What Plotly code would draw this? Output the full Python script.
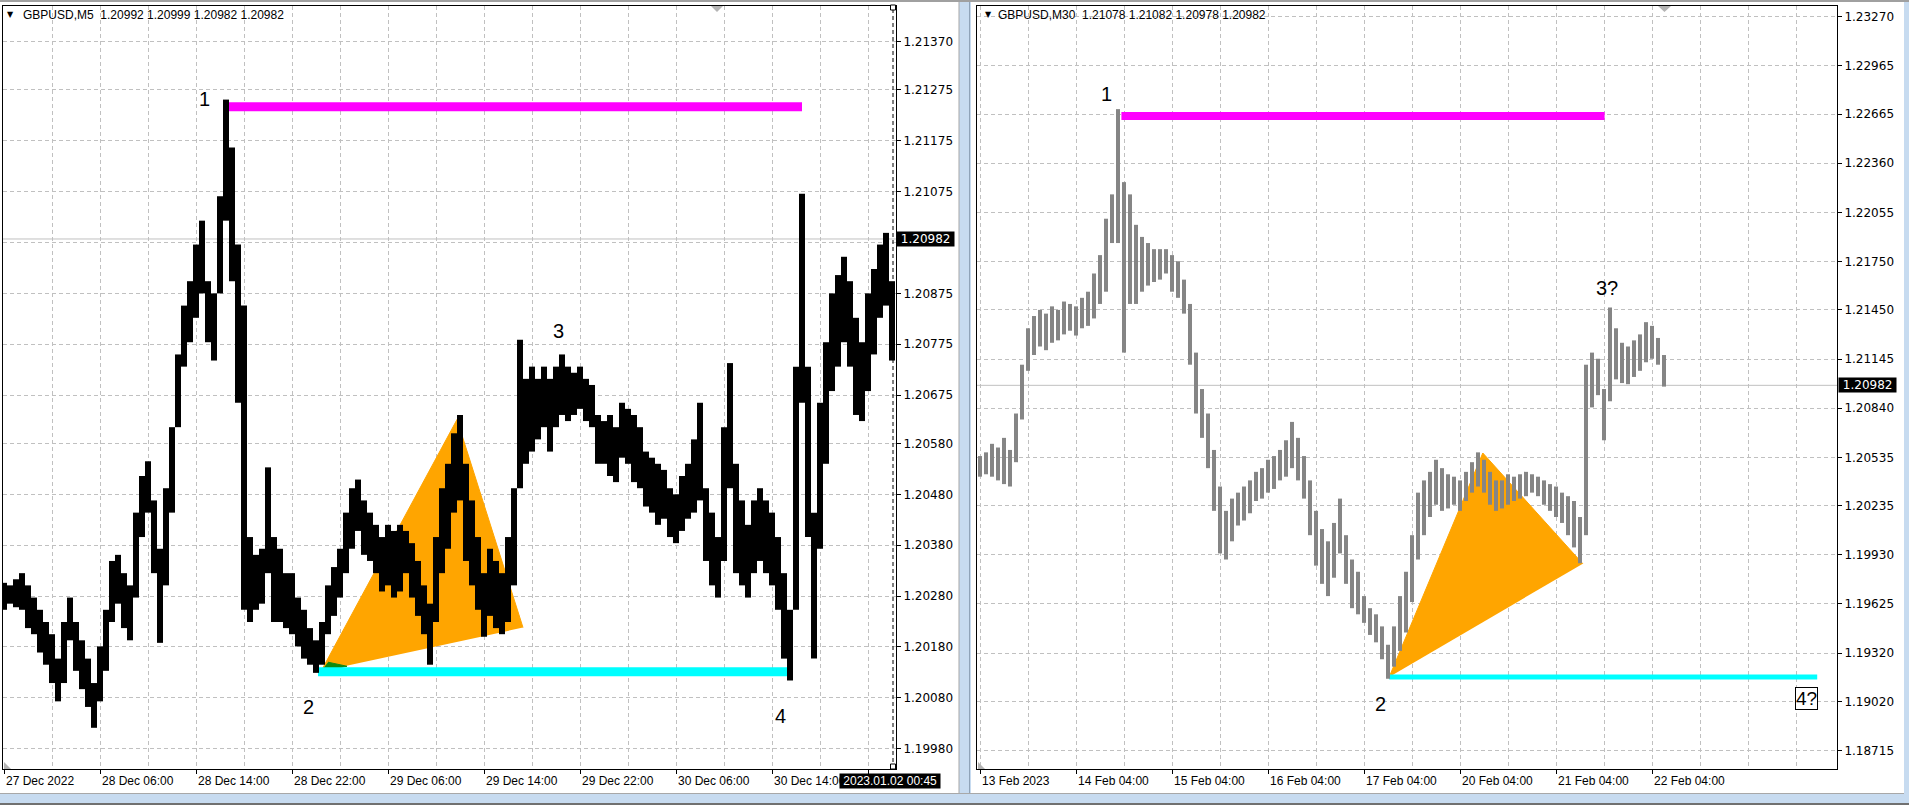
import plotly.graph_objects as go

W, H = 1909, 805

# ---------------- LEFT CHART : GBPUSD M5 (one drawn bar = 6 M5 bars) ----------------
left_title = "GBPUSD,M5  1.20992 1.20999 1.20982 1.20982"
left_bar_step = 6
left_high = [1.20306, 1.20301, 1.20313, 1.20325, 1.20301, 1.20277, 1.20253, 1.20229, 1.20205, 1.20157,
             1.20229, 1.20277, 1.20229, 1.20193, 1.20157, 1.20109, 1.20181, 1.20253, 1.20349, 1.20361,
             1.20325, 1.20301, 1.20444, 1.20516, 1.20545, 1.20468, 1.20373, 1.20492, 1.20612, 1.20755,
             1.20851, 1.20899, 1.20971, 1.21018, 1.20899, 1.20875, 1.21066, 1.21256, 1.21162, 1.20971,
             1.20851, 1.20396, 1.20361, 1.20373, 1.20533, 1.20396, 1.20373, 1.20325, 1.20325, 1.20277,
             1.20253, 1.20217, 1.20193, 1.20229, 1.20301, 1.20337, 1.20373, 1.20444, 1.20492, 1.20509,
             1.20468, 1.20444, 1.20420, 1.20396, 1.20420, 1.20408, 1.20420, 1.20408, 1.20384, 1.20349,
             1.20301, 1.20265, 1.20396, 1.20492, 1.20540, 1.20600, 1.20636, 1.20540, 1.20468, 1.20396,
             1.20325, 1.20373, 1.20349, 1.20325, 1.20396, 1.20492, 1.20784, 1.20707, 1.20731, 1.20707,
             1.20731, 1.20707, 1.20731, 1.20755, 1.20731, 1.20719, 1.20731, 1.20707, 1.20695, 1.20636,
             1.20624, 1.20636, 1.20612, 1.20660, 1.20648, 1.20636, 1.20612, 1.20564, 1.20552, 1.20540,
             1.20528, 1.20492, 1.20480, 1.20516, 1.20540, 1.20588, 1.20660, 1.20492, 1.20444, 1.20396,
             1.20612, 1.20738, 1.20540, 1.20468, 1.20420, 1.20468, 1.20492, 1.20468, 1.20444, 1.20396,
             1.20325, 1.20253, 1.20731, 1.21071, 1.20731, 1.20444, 1.20660, 1.20779, 1.20875, 1.20911,
             1.20947, 1.20899, 1.20827, 1.20779, 1.20875, 1.20923, 1.20971, 1.20994, 1.20899]
left_low = [1.20253, 1.20265, 1.20258, 1.20253, 1.20217, 1.20205, 1.20169, 1.20145, 1.20109, 1.20073,
            1.20109, 1.20193, 1.20133, 1.20097, 1.20062, 1.20021, 1.20073, 1.20133, 1.20229, 1.20265,
            1.20217, 1.20193, 1.20277, 1.20396, 1.20444, 1.20325, 1.20188, 1.20301, 1.20444, 1.20612,
            1.20731, 1.20779, 1.20827, 1.20875, 1.20779, 1.20743, 1.20875, 1.21018, 1.20899, 1.20660,
            1.20253, 1.20229, 1.20253, 1.20265, 1.20325, 1.20229, 1.20229, 1.20217, 1.20205, 1.20181,
            1.20157, 1.20145, 1.20129, 1.20145, 1.20205, 1.20241, 1.20277, 1.20325, 1.20373, 1.20408,
            1.20361, 1.20349, 1.20325, 1.20289, 1.20301, 1.20277, 1.20289, 1.20325, 1.20277, 1.20241,
            1.20205, 1.20145, 1.20229, 1.20325, 1.20373, 1.20444, 1.20468, 1.20349, 1.20301, 1.20253,
            1.20200, 1.20241, 1.20217, 1.20205, 1.20229, 1.20301, 1.20492, 1.20540, 1.20564, 1.20588,
            1.20612, 1.20564, 1.20612, 1.20636, 1.20624, 1.20636, 1.20648, 1.20624, 1.20612, 1.20540,
            1.20540, 1.20516, 1.20504, 1.20552, 1.20540, 1.20504, 1.20492, 1.20456, 1.20444, 1.20420,
            1.20432, 1.20396, 1.20384, 1.20408, 1.20432, 1.20444, 1.20468, 1.20349, 1.20301, 1.20277,
            1.20349, 1.20492, 1.20325, 1.20301, 1.20277, 1.20325, 1.20349, 1.20325, 1.20301, 1.20253,
            1.20157, 1.20114, 1.20253, 1.20660, 1.20396, 1.20157, 1.20373, 1.20540, 1.20683, 1.20731,
            1.20779, 1.20731, 1.20636, 1.20624, 1.20683, 1.20755, 1.20827, 1.20851, 1.20743]
left_xtick_pos = [0, 96, 192, 288, 384, 480, 576, 672, 768, 864]
left_xtick_text = ["27 Dec 2022", "28 Dec 06:00", "28 Dec 14:00", "28 Dec 22:00", "29 Dec 06:00",
                   "29 Dec 14:00", "29 Dec 22:00", "30 Dec 06:00", "30 Dec 14:00", ""]
left_ytick_vals = [1.21370, 1.21275, 1.21175, 1.21075, 1.20975, 1.20875, 1.20775, 1.20675,
                   1.20580, 1.20480, 1.20380, 1.20280, 1.20180, 1.20080, 1.19980]
# the 1.20975 label sits under the black bid-price box in the reference, so it is not shown
left_ytick_text = ["1.21370", "1.21275", "1.21175", "1.21075", "", "1.20875", "1.20775", "1.20675",
                   "1.20580", "1.20480", "1.20380", "1.20280", "1.20180", "1.20080", "1.19980"]
left_bid = 1.20982
left_time_label = "2023.01.02 00:45"
left_level_hi = 1.21242
left_level_hi_x = [223, 798]
left_level_lo = 1.20131
left_level_lo_x = [314, 787]
left_tri_x = [317, 453, 519]
left_tri_y = [1.20132, 1.20627, 1.20218]
left_wedge_x = [317, 343, 324]
left_wedge_y = [1.20132, 1.20142, 1.20150]
left_point_text = ["1", "2", "3", "4"]
left_point_x = [200, 304, 554, 776]
left_point_y = [1.21257, 1.20062, 1.20801, 1.20044]

# ---------------- RIGHT CHART : GBPUSD M30 (one drawn bar = 3 M30 bars) ----------------
right_title = "GBPUSD,M30  1.21078 1.21082 1.20978 1.20982"
right_bar_step = 3
right_high = [1.20543, 1.20566, 1.20619, 1.20596, 1.20656, 1.20581, 1.20807, 1.21110, 1.21336, 1.21412,
              1.21450, 1.21427, 1.21472, 1.21450, 1.21502, 1.21487, 1.21472, 1.21525, 1.21563, 1.21676,
              1.21790, 1.22016, 1.22167, 1.22696, 1.22243, 1.22167, 1.21978, 1.21903, 1.21865, 1.21827,
              1.21827, 1.21827, 1.21790, 1.21752, 1.21638, 1.21487, 1.21185, 1.20959, 1.20807, 1.20581,
              1.20354, 1.20203, 1.20279, 1.20316, 1.20354, 1.20392, 1.20445, 1.20468, 1.20520, 1.20543,
              1.20581, 1.20641, 1.20755, 1.20656, 1.20543, 1.20392, 1.20203, 1.20090, 1.20014, 1.20128,
              1.20279, 1.20052, 1.19901, 1.19825, 1.19674, 1.19599, 1.19561, 1.19486, 1.19372, 1.19486,
              1.19674, 1.19825, 1.20052, 1.20316, 1.20392, 1.20445, 1.20520, 1.20468, 1.20430, 1.20415,
              1.20392, 1.20445, 1.20505, 1.20566, 1.20520, 1.20445, 1.20392, 1.20392, 1.20430, 1.20415,
              1.20430, 1.20445, 1.20430, 1.20415, 1.20392, 1.20369, 1.20354, 1.20316, 1.20294, 1.20264,
              1.20165, 1.21110, 1.21185, 1.21147, 1.20959, 1.21465, 1.21336, 1.21246, 1.21223, 1.21261,
              1.21298, 1.21374, 1.21351, 1.21276, 1.21170]
right_low = [1.20415, 1.20430, 1.20415, 1.20392, 1.20369, 1.20354, 1.20505, 1.20770, 1.21072, 1.21170,
             1.21223, 1.21200, 1.21246, 1.21261, 1.21298, 1.21321, 1.21291, 1.21336, 1.21351, 1.21397,
             1.21487, 1.21563, 1.21865, 1.21865, 1.21185, 1.21487, 1.21487, 1.21563, 1.21601, 1.21623,
             1.21638, 1.21676, 1.21563, 1.21525, 1.21427, 1.21110, 1.20807, 1.20656, 1.20468, 1.20203,
             1.19939, 1.19901, 1.20014, 1.20112, 1.20143, 1.20188, 1.20264, 1.20279, 1.20316, 1.20339,
             1.20392, 1.20415, 1.20468, 1.20392, 1.20279, 1.20052, 1.19863, 1.19750, 1.19674, 1.19788,
             1.19939, 1.19750, 1.19599, 1.19561, 1.19508, 1.19433, 1.19387, 1.19282, 1.19161, 1.19236,
             1.19334, 1.19448, 1.19637, 1.19901, 1.20052, 1.20165, 1.20241, 1.20203, 1.20218, 1.20241,
             1.20203, 1.20264, 1.20316, 1.20354, 1.20316, 1.20241, 1.20203, 1.20218, 1.20241, 1.20264,
             1.20279, 1.20294, 1.20316, 1.20294, 1.20241, 1.20203, 1.20165, 1.20128, 1.20052, 1.19976,
             1.19878, 1.20052, 1.20845, 1.20921, 1.20641, 1.20883, 1.21019, 1.20996, 1.20989, 1.21034,
             1.21072, 1.21125, 1.21147, 1.21110, 1.20974]
right_xtick_pos = [0, 48, 96, 144, 192, 240, 288, 336]
right_xtick_text = ["13 Feb 2023", "14 Feb 04:00", "15 Feb 04:00", "16 Feb 04:00", "17 Feb 04:00",
                    "20 Feb 04:00", "21 Feb 04:00", "22 Feb 04:00"]
right_ytick_text = ["1.23270", "1.22965", "1.22665", "1.22360", "1.22055", "1.21750", "1.21450", "1.21145",
                    "1.20840", "1.20535", "1.20235", "1.19930", "1.19625", "1.19320", "1.19020", "1.18715"]
right_bid = 1.20982
right_level_hi = 1.22654
right_level_hi_x = [70.7, 312.3]
right_level_lo = 1.19172
right_level_lo_x = [204.6, 418.6]
right_tri_x = [204.6, 251.4, 301.4]
right_tri_y = [1.19172, 1.20562, 1.19875]
right_point_text = ["1", "2", "3?"]
right_point_x = [63.4, 200.3, 313.5]
right_point_y = [1.22792, 1.19007, 1.21583]
right_box_text = "4?"
right_box_x = 413.25
right_box_y = 1.19038

# ---------------- helpers (layout only) ----------------
def px_x(v):
    return v / W

def px_y(v):
    return 1 - v / H

GRID = "#c0c0c0"
DASH = "4px,3px"
TXT_FONT = "Liberation Sans"
AX_FONT = "DejaVu Sans"

def bar_segments(step, highs, lows):
    xs, ys = [], []
    for k, (h, l) in enumerate(zip(highs, lows)):
        x = k * step
        xs += [x, x, None]
        ys += [h, l, None]
    return xs, ys

fig = go.Figure()

def add_panel(xa, ya, bid, xrng, tri_x, tri_y, lvl_hi, lvl_hi_x, lvl_lo, lvl_lo_x,
              lvl_hi_w, lvl_lo_w, bars, bar_color, bar_w, wedge=None):
    fig.add_trace(go.Scatter(x=list(xrng), y=[bid, bid], mode="lines",
                             line=dict(color="#c0c0c0", width=1), xaxis=xa, yaxis=ya, hoverinfo="skip"))
    fig.add_trace(go.Scatter(x=tri_x, y=tri_y, mode="lines", fill="toself", fillcolor="#FFA500",
                             line=dict(color="#FFA500", width=1), xaxis=xa, yaxis=ya, hoverinfo="skip"))
    if wedge is not None:
        fig.add_trace(go.Scatter(x=wedge[0], y=wedge[1], mode="lines", fill="toself", fillcolor="#108a10",
                                 line=dict(color="#108a10", width=1), xaxis=xa, yaxis=ya, hoverinfo="skip"))
    fig.add_trace(go.Scatter(x=lvl_hi_x, y=[lvl_hi, lvl_hi], mode="lines",
                             line=dict(color="#FF00FF", width=lvl_hi_w), xaxis=xa, yaxis=ya, hoverinfo="skip"))
    fig.add_trace(go.Scatter(x=lvl_lo_x, y=[lvl_lo, lvl_lo], mode="lines",
                             line=dict(color="#00FFFF", width=lvl_lo_w), xaxis=xa, yaxis=ya, hoverinfo="skip"))
    bx, by = bars
    fig.add_trace(go.Scatter(x=bx, y=by, mode="lines", connectgaps=False,
                             line=dict(color=bar_color, width=bar_w), xaxis=xa, yaxis=ya, hoverinfo="skip"))

left_xr = (-1, 892)
right_xr = (-1.5, 428.5)

add_panel("x", "y", left_bid, left_xr, left_tri_x, left_tri_y, left_level_hi, left_level_hi_x,
          left_level_lo, left_level_lo_x, 9, 9,
          bar_segments(left_bar_step, left_high, left_low), "#000000", 6,
          wedge=(left_wedge_x, left_wedge_y))
add_panel("x2", "y2", right_bid, right_xr, right_tri_x, right_tri_y, right_level_hi, right_level_hi_x,
          right_level_lo, right_level_lo_x, 8, 5,
          bar_segments(right_bar_step, right_high, right_low), "#858585", 4)

ydom = [px_y(769), px_y(6)]

def xaxis_cfg(dom, rng, tickpos):
    step = tickpos[1] - tickpos[0]
    minor = []
    v = tickpos[0] + step / 2
    while v <= rng[1]:
        minor.append(v)
        v += step / 2 if (v - tickpos[0]) % step == 0 or v > tickpos[-1] else step
    minor = sorted(set(m for m in minor if m not in tickpos))
    return dict(domain=dom, range=list(rng), tickmode="array", tickvals=tickpos,
                showticklabels=False, ticks="outside", ticklen=4, tickcolor="black",
                showgrid=True, gridcolor=GRID, griddash=DASH, gridwidth=1,
                minor=dict(tickmode="array", tickvals=minor, showgrid=True, gridcolor=GRID,
                           griddash=DASH, gridwidth=1, ticks=""),
                showline=True, mirror=True, linecolor="black", linewidth=1,
                zeroline=False, fixedrange=True)

def yaxis_cfg(rng, vals, labels, anchor):
    return dict(domain=ydom, range=list(rng), side="right", anchor=anchor,
                tickmode="array", tickvals=vals, ticktext=labels,
                ticks="outside", ticklen=4, tickcolor="black",
                tickfont=dict(family=AX_FONT, size=12, color="black"),
                showgrid=True, gridcolor=GRID, griddash=DASH, gridwidth=1,
                showline=True, mirror=True, linecolor="black", linewidth=1,
                zeroline=False, fixedrange=True)

ann = []
def text(x, y, s, xref="paper", yref="paper", size=12, color="black", family=TXT_FONT,
         xanchor="left", yanchor="middle", **kw):
    d = dict(x=x, y=y, xref=xref, yref=yref, text=s, showarrow=False, xanchor=xanchor,
             yanchor=yanchor, font=dict(family=family, size=size, color=color))
    d.update(kw)
    ann.append(d)

# titles
text(px_x(10.5), px_y(14.5), "▼", size=8, family=AX_FONT, xanchor="center")
text(px_x(21), px_y(14.5), left_title)
text(px_x(988.5), px_y(14.5), "▼", size=8, family=AX_FONT, xanchor="center")
text(px_x(996), px_y(14.5), right_title)

# x labels
for p, s in zip(left_xtick_pos, left_xtick_text):
    if s:
        text(p, px_y(780.5), s, xref="x")
for p, s in zip(right_xtick_pos, right_xtick_text):
    text(p, px_y(780.5), s, xref="x2")

# point labels
for s, x, y in zip(left_point_text, left_point_x, left_point_y):
    text(x, y, s, xref="x", yref="y", size=20, xanchor="center")
for s, x, y in zip(right_point_text, right_point_x, right_point_y):
    text(x, y, s, xref="x2", yref="y2", size=20, xanchor="center")
text(right_box_x, right_box_y, right_box_text, xref="x2", yref="y2", size=19, xanchor="center",
     bordercolor="black", borderwidth=1, borderpad=0, bgcolor="white")

# price / time boxes
text(px_x(896), left_bid, " " + f"{left_bid:.5f}" + " ", yref="y", family=AX_FONT, size=12,
     color="white", bgcolor="black", borderpad=0)
text(px_x(1838), right_bid, " " + f"{right_bid:.5f}" + " ", yref="y2", family=AX_FONT, size=12,
     color="white", bgcolor="black", borderpad=0)
text(px_x(839), px_y(781), " " + left_time_label + " ", size=12, color="white", bgcolor="black",
     borderpad=0)

# window decorations (paper px)
def rect(x0, y0, x1, y1, fill, line=None):
    return dict(type="rect", xref="paper", yref="paper", x0=px_x(x0), x1=px_x(x1),
                y0=px_y(y1), y1=px_y(y0), fillcolor=fill,
                line=dict(width=0) if line is None else dict(color=line, width=1), layer="above")

def tri(pts, fill):
    path = "M " + " L ".join(f"{px_x(a):.6f},{px_y(b):.6f}" for a, b in pts) + " Z"
    return dict(type="path", xref="paper", yref="paper", path=path, fillcolor=fill,
                line=dict(width=0), layer="above")

BLUE = "#c7dbf0"
shapes = [
    rect(959, 0, 971, 805, BLUE),
    rect(958.5, 0, 959.5, 805, "#a8a8a8"),
    rect(969, 0, 970, 805, "#8fa3b8"),
    rect(0, 794, 1909, 805, BLUE),
    rect(0, 793, 1909, 794, "#a8a8a8"),
    rect(0, 803, 1909, 805, "#707070"),
    rect(1904, 0, 1909, 794, BLUE),
    rect(0, 0, 1909, 2, "#a0a0a0"),
    tri([(711, 6), (723, 6), (717, 12)], "#b4b4b4"),
    tri([(1658, 6), (1671, 6), (1664.5, 12)], "#b4b4b4"),
    tri([(4, 762), (4, 769), (11, 769)], "#b4b4b4"),
    tri([(978, 762), (978, 769), (985, 769)], "#b4b4b4"),
    dict(type="line", xref="paper", yref="paper", x0=px_x(893), x1=px_x(893), y0=px_y(769), y1=px_y(6),
         line=dict(color="black", width=1, dash="4px,3px"), layer="above"),
    rect(890.5, 5, 895.5, 10, "white", "black"),
    rect(890.5, 764, 895.5, 769, "white", "black"),
]

fig.update_layout(
    width=W, height=H, autosize=False,
    margin=dict(l=0, r=0, t=0, b=0, pad=0),
    paper_bgcolor="white", plot_bgcolor="white",
    showlegend=False, hovermode=False,
    xaxis=xaxis_cfg([px_x(3), px_x(896)], left_xr, left_xtick_pos),
    yaxis=yaxis_cfg((1.19940, 1.21440), left_ytick_vals, left_ytick_text, "x"),
    xaxis2=xaxis_cfg([px_x(977), px_x(1837)], right_xr, right_xtick_pos),
    yaxis2=yaxis_cfg((1.18601, 1.23336), [float(t) for t in right_ytick_text], right_ytick_text, "x2"),
    annotations=ann,
    shapes=shapes,
)
fig.layout.xaxis.anchor = "y"
fig.layout.xaxis2.anchor = "y2"

fig.write_html("out.html", config={"displayModeBar": False},
               post_script="document.body.style.margin='0px';document.body.style.overflow='hidden';")
